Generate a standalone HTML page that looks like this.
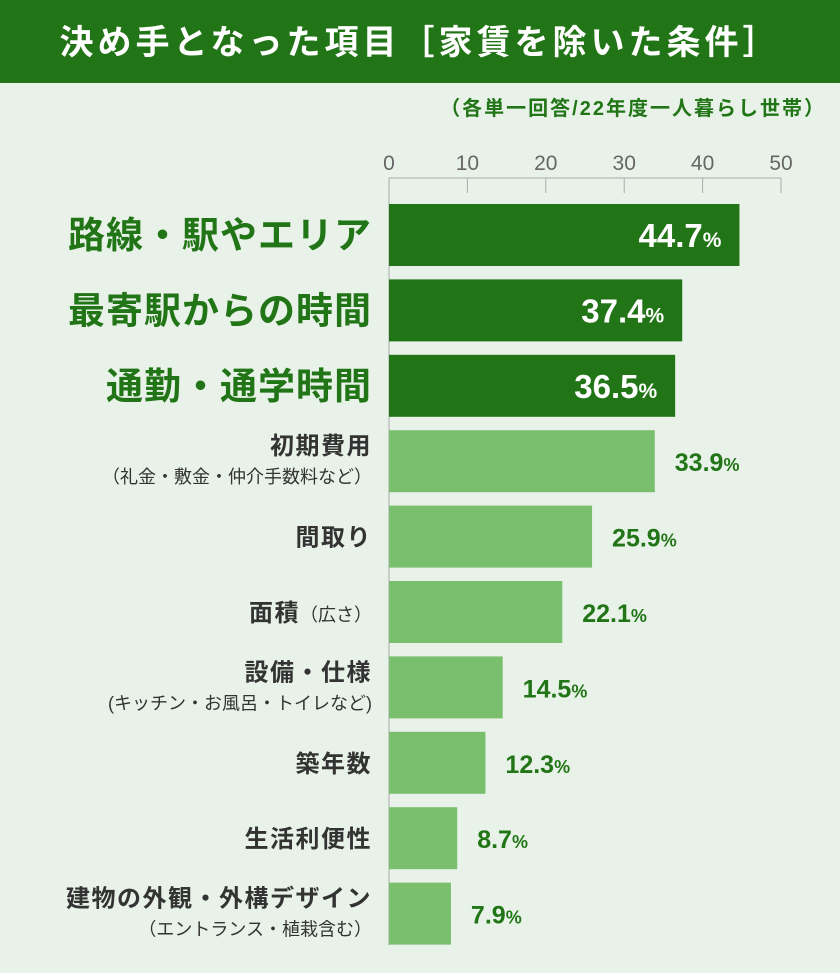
<!DOCTYPE html>
<html><head><meta charset="utf-8"><style>
body{margin:0;width:840px;height:973px;background:#e8f2e9;overflow:hidden;font-family:"Liberation Sans","Noto Sans CJK JP",sans-serif;}
#hdr{position:absolute;left:0;top:0;width:840px;height:83px;background:#217516;color:#fff;font-size:34px;font-weight:bold;text-align:center;line-height:86px;letter-spacing:4px}
#note{position:absolute;right:14px;top:92px;color:#217516;font-size:20px;font-weight:bold;letter-spacing:2px}
svg{position:absolute;left:0;top:0}
</style></head><body>
<div id="hdr">決め手となった項目［家賃を除いた条件］</div>
<div id="note">（各単一回答/22年度一人暮らし世帯）</div>
<svg id="chart" width="840" height="973"></svg>
<script>
const categories=["路線・駅やエリア","最寄駅からの時間","通勤・通学時間","初期費用","間取り","面積","設備・仕様","築年数","生活利便性","建物の外観・外構デザイン"];
const subLabels=["","","","（礼金・敷金・仲介手数料など）","","（広さ）","(キッチン・お風呂・トイレなど)","","","（エントランス・植栽含む）"];
const values=[44.7,37.4,36.5,33.9,25.9,22.1,14.5,12.3,8.7,7.9];
const ticks=[0,10,20,30,40,50];
const NS="http://www.w3.org/2000/svg";
const svg=document.getElementById('chart');
const x0=389,x1=781,vmax=50;
const xs=v=>x0+(x1-x0)*v/vmax;
const barTop=i=>204+i*75.4;
const bh=62;
function mk(t,a,txt){const e=document.createElementNS(NS,t);for(const k in a)e.setAttribute(k,a[k]);if(txt!=null)e.textContent=txt;svg.appendChild(e);return e;}
ticks.forEach(t=>{
 const l=mk('text',{x:xs(t),y:170,'text-anchor':'middle','font-size':21,fill:'#666'},t);
 
 
 const k=mk('line',{x1:xs(t),x2:xs(t),y1:178,y2:193,stroke:'#aaa','stroke-width':1});
 
 
});
const ax=mk('line',{x1:x0,x2:x1,y1:178,y2:178,stroke:'#aaa','stroke-width':1});


const ay=mk('line',{x1:x0,x2:x0,y1:178,y2:945,stroke:'#aaa','stroke-width':1});


values.forEach((v,i)=>{
 const top=barTop(i),dark=i<3;
 const r=mk('rect',{x:x0,y:top,width:xs(v)-x0,height:bh,fill:dark?'#217516':'#79bf6e'});
 
 
 let vl;
 if(dark){
  vl=mk('text',{x:xs(v)-18,y:top+bh/2+12,'text-anchor':'end','font-size':33,'font-weight':'bold',fill:'#fff'});
 }else{
  vl=mk('text',{x:xs(v)+20,y:top+bh/2+10,'text-anchor':'start','font-size':25,'font-weight':'bold',fill:'#217516'});
 }
 const ts=document.createElementNS(NS,'tspan');ts.textContent=v.toFixed(1);vl.appendChild(ts);
 const pc=document.createElementNS(NS,'tspan');pc.textContent='%';pc.setAttribute('font-size',dark?21:18);vl.appendChild(pc);
 
 
 const cx=372;
 if(dark){
  const c=mk('text',{x:cx,y:top+bh/2+13,'text-anchor':'end','font-size':37,'font-weight':'bold',fill:'#217516','letter-spacing':1},categories[i]);
  
  
 }else{
  const sub=subLabels[i];
  if(sub&&i!==5){
   const c=mk('text',{x:cx,y:top+24,'text-anchor':'end','font-size':24,'font-weight':'bold',fill:'#333','letter-spacing':1.5},categories[i]);
   
   
   const s=mk('text',{x:cx,y:top+53,'text-anchor':'end','font-size':18,fill:'#333'},sub);
   
   
  }else{
   const c=mk('text',{x:cx,y:top+bh/2+9,'text-anchor':'end','font-size':24,'font-weight':'bold',fill:'#333','letter-spacing':1.5});
   const a=document.createElementNS(NS,'tspan');a.textContent=categories[i];c.appendChild(a);
   if(sub){const b=document.createElementNS(NS,'tspan');b.textContent=sub;b.setAttribute('font-size',18);b.setAttribute('font-weight','normal');b.setAttribute('letter-spacing',0);c.appendChild(b);}
   
   
  }
 }
});
</script>
</body></html>
